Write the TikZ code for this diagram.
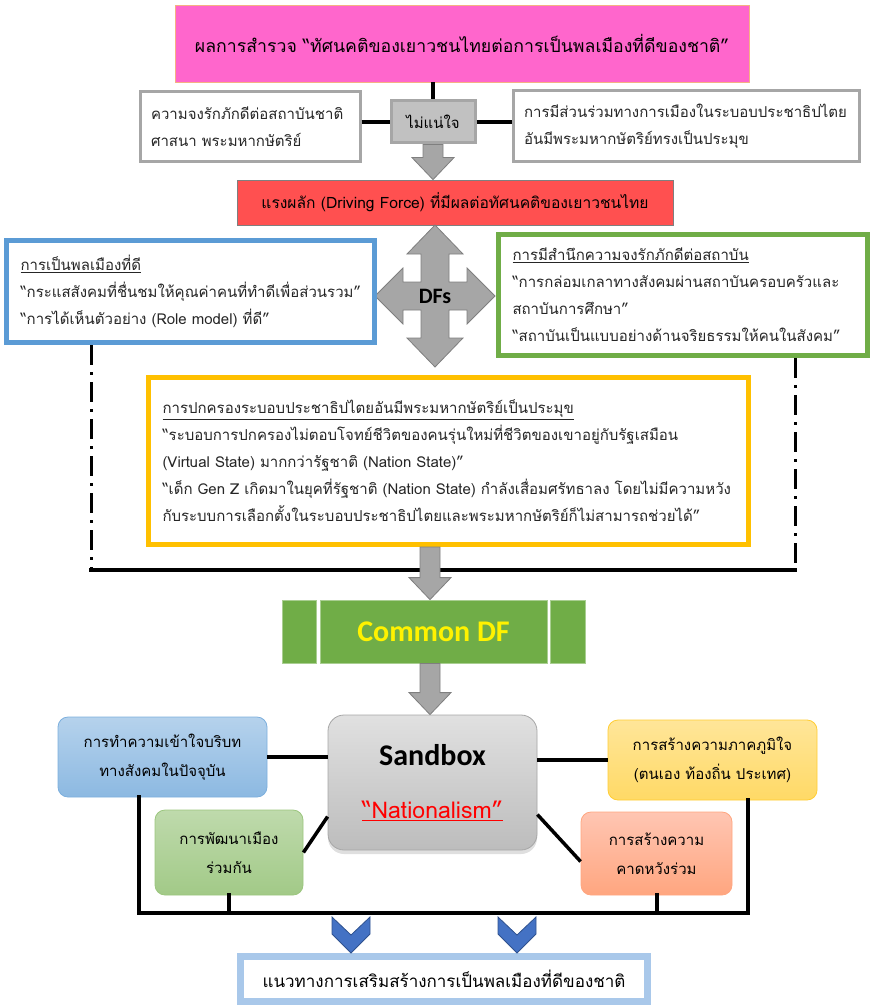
\documentclass[tikz,border=0pt]{standalone}
\usepackage{fontspec}
\setmainfont[Script=Thai]{Loma}
\newfontfamily\latinsans{Carlito}
\usetikzlibrary{calc}
\usetikzlibrary{shadows}

\definecolor{pinkfill}{HTML}{FF66CC}
\definecolor{pinkedge}{HTML}{F4B183}
\definecolor{redfill}{HTML}{FF5050}
\definecolor{boxgray}{HTML}{A6A6A6}
\definecolor{arrowgray}{HTML}{A6A6A6}
\definecolor{arrowedge}{HTML}{7F7F7F}
\definecolor{dfblue}{HTML}{5B9BD5}
\definecolor{dfgreen}{HTML}{70AD47}
\definecolor{dfyellow}{HTML}{FFC000}
\definecolor{textgray}{HTML}{262626}
\definecolor{chevfill}{HTML}{4472C4}
\definecolor{chevedge}{HTML}{2F528F}
\definecolor{guideedge}{HTML}{A9C8EA}

\tikzset{
 bodytext/.style={font=\fontsize{15}{27}\selectfont, text=textgray},
 graybox/.style={draw=boxgray, line width=3pt, fill=white, align=left,
   inner xsep=11pt, bodytext},
 dfbox/.style={line width=5pt, fill=white, align=left, inner xsep=14pt, bodytext},
 cdfbox/.style={draw=dfgreen!60!white, fill=dfgreen, line width=0.8pt,
   minimum height=63pt},
 factor/.style={rounded corners=10pt, line width=0.8pt, align=center,
   font=\fontsize{15}{29}\selectfont},
 busline/.style={line width=4pt, line cap=rect},
 linkline/.style={line width=3.5pt},
 dashdot/.style={line width=3pt, dash pattern=on 20pt off 7pt on 3pt off 7pt},
}

\newcommand{\blockarrow}[2]{%
  \draw[draw=arrowedge, fill=arrowgray, line width=0.8pt]
    let \p1=(#1), \p2=(#2) in
    ({\x1-10pt},{\y1}) -- ({\x1+10pt},{\y1}) -- ({\x1+10pt},{\y2+22pt})
    -- ({\x1+21pt},{\y2+22pt}) -- ({\x1},{\y2}) -- ({\x1-21pt},{\y2+22pt})
    -- ({\x1-10pt},{\y2+22pt}) -- cycle;}

\begin{document}
\begin{tikzpicture}[x=1pt, y=-1pt]
  \useasboundingbox (0,0) rectangle (872,1008);

  % survey title and the undecided answer
  \node[draw=pinkedge, fill=pinkfill, line width=0.8pt, minimum width=574pt,
    minimum height=77pt, font=\fontsize{17.7}{22}\selectfont] (title) at (462,43.5)
    {ผลการสำรวจ “ทัศนคติของเยาวชนไทยต่อการเป็นพลเมืองที่ดีของชาติ”};
  \node[draw=boxgray, fill=boxgray!70!white, line width=3pt, minimum width=84pt,
    minimum height=42pt, font=\fontsize{15}{18}\selectfont] (unsure) at (433,122) {ไม่แน่ใจ};
  \node[graybox, text width=198pt, minimum height=70pt] (loyal) at (250,127)
    {ความจงรักภักดีต่อสถาบันชาติ\\ศาสนา พระมหากษัตริย์};
  \node[graybox, text width=324pt, minimum height=71pt] (partic) at (686,126.5)
    {การมีส่วนร่วมทางการเมืองในระบอบประชาธิปไตย\\อันมีพระมหากษัตริย์ทรงเป็นประมุข};
  \draw[linkline] (title.south -| unsure.north) -- (unsure.north);
  \draw[linkline] (loyal.east |- unsure.west) -- (unsure.west);
  \draw[linkline] (unsure.east) -- (unsure.east -| partic.west);

  \node[draw=arrowedge, fill=redfill, line width=0.8pt, minimum width=436pt,
    minimum height=45pt, font=\fontsize{15.6}{20}\selectfont] (driving) at (455,202.5)
    {แรงผลัก (Driving Force) ที่มีผลต่อทัศนคติของเยาวชนไทย};
  \blockarrow{unsure.south}{unsure.south |- driving.north}

  % driving forces
  \coordinate (dfc) at (435,296);
  \draw[draw=arrowedge, fill=arrowgray, line width=0.8pt, shift={(dfc)}]
    (0,-71) -- (28,-42) -- (14,-42) -- (14,-14) -- (32,-14) -- (32,-28) -- (60,0)
    -- (32,28) -- (32,14) -- (14,14) -- (14,42) -- (28,42) -- (0,71) -- (-28,42)
    -- (-14,42) -- (-14,14) -- (-32,14) -- (-32,28) -- (-60,0) -- (-32,-28)
    -- (-32,-14) -- (-14,-14) -- (-14,-42) -- (-28,-42) -- cycle;
  \node[font=\latinsans\bfseries\fontsize{22}{24}\selectfont] (dfs) at (dfc) {DFs};

  \node[dfbox, draw=dfblue, text width=340pt, minimum height=102pt] (good) at (190.5,291.5)
    {\underline{การเป็นพลเมืองที่ดี}\\
     “กระแสสังคมที่ชื่นชมให้คุณค่าคนที่ทำดีเพื่อส่วนรวม”\\
     “การได้เห็นตัวอย่าง (Role model) ที่ดี”};
  \node[dfbox, draw=dfgreen, text width=341pt, minimum height=121pt] (aware) at (683,295)
    {\underline{การมีสำนึกความจงรักภักดีต่อสถาบัน}\\
     “การกล่อมเกลาทางสังคมผ่านสถาบันครอบครัวและ\\
     สถาบันการศึกษา”\\
     “สถาบันเป็นแบบอย่างด้านจริยธรรมให้คนในสังคม”};
  \node[dfbox, draw=dfyellow, text width=572pt, minimum height=167pt] (govern) at (448.5,461)
    {\underline{การปกครองระบอบประชาธิปไตยอันมีพระมหากษัตริย์เป็นประมุข}\\
     “ระบอบการปกครองไม่ตอบโจทย์ชีวิตของคนรุ่นใหม่ที่ชีวิตของเขาอยู่กับรัฐเสมือน\\
     (Virtual State) มากกว่ารัฐชาติ (Nation State)”\\
     “เด็ก Gen Z เกิดมาในยุคที่รัฐชาติ (Nation State) กำลังเสื่อมศรัทธาลง โดยไม่มีความหวัง\\
     กับระบบการเลือกตั้งในระบอบประชาธิปไตยและพระมหากษัตริย์ก็ไม่สามารถช่วยได้”};

  \coordinate (busL) at (91,570);
  \coordinate (busR) at (795,570);
  \draw[dashdot] (good.south -| busL) -- (busL);
  \draw[dashdot] (aware.south -| busR) -- (busR);
  \draw[busline] (busL) -- (busR);

  % common driving force
  \node[cdfbox, minimum width=227pt, font=\latinsans\bfseries\fontsize{30}{32}\selectfont,
    text=yellow] (cdf) at (433.5,631.5) {Common DF};
  \node[cdfbox, minimum width=34pt] (cdfL) at (299,631.5) {};
  \node[cdfbox, minimum width=35pt] (cdfR) at (567.5,631.5) {};
  \blockarrow{govern.south -| 430,0}{430,0 |- cdf.north}

  % sandbox and its factors
  \node[draw=boxgray, top color=black!12, bottom color=black!26, rounded corners=16pt,
    line width=0.8pt, minimum width=209pt, minimum height=135pt, align=center,
    drop shadow={shadow xshift=0pt, shadow yshift=-4pt, opacity=0.25}] (sandbox) at (432.5,782.5)
    {{\latinsans\bfseries\fontsize{30}{32}\selectfont Sandbox}\\[34pt]
     {\color{red}\fontsize{23}{26}\selectfont\underline{“Nationalism”}}};
  \blockarrow{cdf.south -| 430,0}{430,0 |- sandbox.north}

  \node[factor, draw=dfblue!80!white, top color=dfblue!45!white, bottom color=dfblue!70!white,
    minimum width=209pt, minimum height=80pt] (context) at (162.5,757)
    {การทำความเข้าใจบริบท\\ทางสังคมในปัจจุบัน};
  \node[factor, draw=dfgreen!70!white, top color=dfgreen!45!white, bottom color=dfgreen!65!white,
    minimum width=148pt, minimum height=85pt] (develop) at (229,852.5)
    {การพัฒนาเมือง\\ร่วมกัน};
  \node[factor, draw=dfyellow!80!white, top color=dfyellow!40!white, bottom color=dfyellow!60!white,
    minimum width=209pt, minimum height=80pt] (pride) at (712.5,760)
    {การสร้างความภาคภูมิใจ\\(ตนเอง ท้องถิ่น ประเทศ)};
  \node[factor, draw=orange!60!red!50!white, top color=orange!50!red!30!white,
    bottom color=orange!60!red!50!white,
    minimum width=151pt, minimum height=83pt] (expect) at (656.5,853.5)
    {การสร้างความ\\คาดหวังร่วม};

  \draw[linkline] (context.east) -- (context.east -| sandbox.west);
  \draw[linkline] (develop.east) -- (sandbox.198);
  \draw[linkline] (sandbox.east |- pride.west) -- (pride.west);
  \draw[linkline] (sandbox.-17) -- (expect.186);

  \coordinate (busA) at (139,913);
  \coordinate (busB) at (748,913);
  \draw[busline] (busA |- context.south) -- (busA) -- (busB) -- (busB |- pride.south);
  \draw[busline] (develop.south) -- (develop.south |- busA);
  \draw[busline] (expect.south) -- (expect.south |- busA);

  % guideline at the bottom
  \node[draw=guideedge, fill=white, line width=7pt, minimum width=407pt,
    minimum height=45pt, font=\fontsize{17}{20}\selectfont] (guide) at (444,979)
    {แนวทางการเสริมสร้างการเป็นพลเมืองที่ดีของชาติ};
  \foreach \cx in {351,517}
    \draw[draw=chevedge, fill=chevfill, line width=0.8pt]
      (\cx-19,917) -- (\cx,935) -- (\cx+19,917) -- (\cx+19,934) -- (\cx,953)
      -- (\cx-19,934) -- cycle;
\end{tikzpicture}
\end{document}
